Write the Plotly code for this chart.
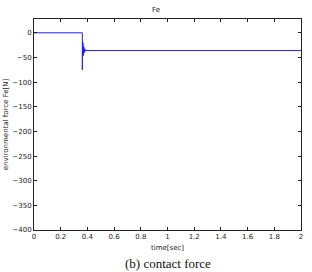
import plotly.graph_objects as go

time_s = [0, 0.362, 0.362, 0.364, 0.366, 0.368, 0.370, 0.372, 0.374, 0.376, 0.379, 0.382, 0.386, 2.0]
force_n = [0, 0, -75, -18, -50, -22, -46, -28, -42, -30, -40, -33, -36, -36]

x_ticks = [0, 0.2, 0.4, 0.6, 0.8, 1, 1.2, 1.4, 1.6, 1.8, 2]
x_labels = ["0", "0.2", "0.4", "0.6", "0.8", "1", "1.2", "1.4", "1.6", "1.8", "2"]
y_ticks = [0, -50, -100, -150, -200, -250, -300, -350, -400]

fig = go.Figure()
fig.add_trace(go.Scatter(x=time_s, y=force_n, mode="lines",
                         line=dict(color="#2020ff", width=1), showlegend=False))

axis_common = dict(showgrid=False, zeroline=False, showline=True, linecolor="#222",
                   linewidth=1, mirror="ticks", ticks="inside", ticklen=3, automargin=False,
                   tickcolor="#222", tickfont=dict(size=7, color="#222", family="DejaVu Sans"))

fig.update_layout(
    width=312, height=272,
    margin=dict(l=34, r=11, t=19, b=42),
    paper_bgcolor="white", plot_bgcolor="white",
    title=dict(text="Fe", x=0.5, xanchor="center", y=0.965, yanchor="middle",
               font=dict(size=7, color="#222", family="DejaVu Sans")),
    xaxis=dict(range=[0, 2], tickvals=x_ticks, ticktext=x_labels,
               title=dict(text="time[sec]", standoff=4,
                          font=dict(size=7, color="#222", family="DejaVu Sans")),
               **axis_common),
    yaxis=dict(range=[-400, 28], tickvals=y_ticks,
               title=dict(text="environmental force Fe[N]", standoff=2,
                          font=dict(size=7, color="#222", family="DejaVu Sans")),
               **axis_common),
)
fig.add_annotation(text="(b) contact force", xref="paper", yref="paper",
                   x=0.5, y=-0.115, xanchor="center", yanchor="top", showarrow=False,
                   font=dict(size=13, color="#111", family="Liberation Serif"))

fig.write_html("out.html")
